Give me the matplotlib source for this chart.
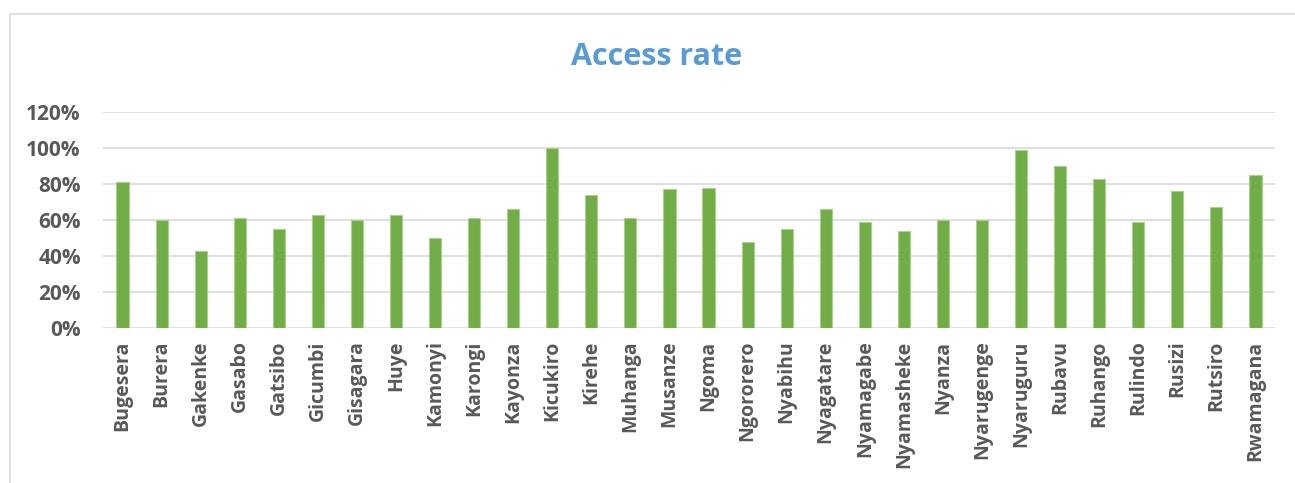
# -*- coding: utf-8 -*-
"""
Access rate by district
"""

import matplotlib.pyplot as plt
from matplotlib.patches import Rectangle
from matplotlib.ticker import PercentFormatter

districts = ["Bugesera", "Burera", "Gakenke", "Gasabo", "Gatsibo", "Gicumbi",
             "Gisagara", "Huye", "Kamonyi", "Karongi", "Kayonza", "Kicukiro",
             "Kirehe", "Muhanga", "Musanze", "Ngoma", "Ngororero", "Nyabihu",
             "Nyagatare", "Nyamagabe", "Nyamasheke", "Nyanza", "Nyarugenge",
             "Nyaruguru", "Rubavu", "Ruhango", "Rulindo", "Rusizi", "Rutsiro",
             "Rwamagana"]
access_rate = [81, 60, 43, 61, 55, 63, 60, 63, 50, 61, 66, 100,
               74, 61, 77, 78, 48, 55, 66, 59, 54, 60, 60,
               99, 90, 83, 59, 76, 67, 85]

plt.rcParams['font.family'] = ['Open Sans', 'DejaVu Sans']

fig = plt.figure(figsize=(12.95, 4.83), dpi=100)

# chart frame, as in the spreadsheet export
fig.patches.append(Rectangle((10 / 1295, -0.1), 1.2, 1 - 14 / 483 + 0.1,
                             transform=fig.transFigure, fill=False,
                             edgecolor='#D9D9D9', linewidth=1.2))

ax = fig.add_axes([103 / 1295, 1 - 328 / 483, 1172 / 1295, 216 / 483])

x = range(len(districts))
ax.bar(x, access_rate, width=0.31, color='#70AD47', edgecolor='#A9D18E',
       linewidth=0.8, zorder=3)

ax.set_xlim(-0.5, len(districts) - 0.5)
ax.set_ylim(0, 120)
ax.set_yticks(range(0, 121, 20))
ax.yaxis.set_major_formatter(PercentFormatter(decimals=0))
ax.grid(axis='y', color='#D9D9D9', linewidth=1.2, zorder=0)
for s in ax.spines.values():
    s.set_visible(False)
ax.tick_params(length=0, colors='#595959')
ax.tick_params(axis='y', pad=16, labelsize=15)
ax.tick_params(axis='x', pad=9, labelsize=14)
ax.set_xticks(list(x))
ax.set_xticklabels(districts, rotation=90, fontweight='bold')
for lab in ax.get_yticklabels():
    lab.set_fontweight('bold')

fig.text(657 / 1295, 1 - 57 / 483, "Access rate", ha='center', va='center',
         fontsize=22, fontweight='bold', color='#5B9BD5')

plt.savefig("out.png", dpi=100)
